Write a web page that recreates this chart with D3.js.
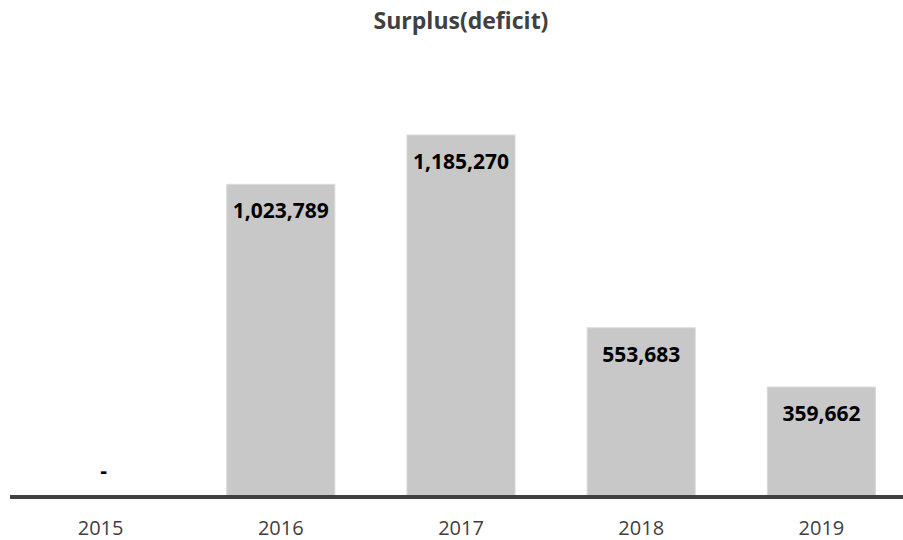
<!DOCTYPE html>
<html>
<head>
<meta charset="utf-8">
<script src="https://cdn.jsdelivr.net/npm/d3@7/dist/d3.min.js"></script>
<style>
  html, body { margin: 0; padding: 0; background: #fff; }
  svg { display: block; font-family: "Open Sans", sans-serif; }
</style>
</head>
<body>
<svg id="chart" width="903" height="540"></svg>
<script>
const categories = ["2015", "2016", "2017", "2018", "2019"];
const values = [0, 1023789, 1185270, 553683, 359662];
const labels = ["-", "1,023,789", "1,185,270", "553,683", "359,662"];
const title = "Surplus(deficit)";

const data = categories.map((c, i) => ({ cat: c, value: values[i], label: labels[i] }));

const svg = d3.select("#chart");
const W = 903, H = 540;

const x = d3.scaleBand()
  .domain(categories)
  .range([10.5, 911.5])
  .paddingInner(0.4)
  .paddingOuter(0.2);

const y = d3.scaleLinear()
  .domain([0, 1400000])
  .range([496.8, 496.8 - 1400000 * 3.052e-4]);

svg.append("text")
  .attr("x", 461)
  .attr("y", 29)
  .attr("text-anchor", "middle")
  .attr("font-size", 23)
  .attr("font-weight", "bold")
  .attr("fill", "#404040")
  .text(title);

svg.append("g")
  .selectAll("rect")
  .data(data)
  .join("rect")
  .attr("x", d => x(d.cat))
  .attr("y", d => y(d.value))
  .attr("width", x.bandwidth())
  .attr("height", d => y(0) - y(d.value))
  .attr("fill", "#c8c8c8")
  .attr("stroke", "#dadada")
  .attr("stroke-width", 1);

svg.append("line")
  .attr("x1", 10).attr("x2", W)
  .attr("y1", 497).attr("y2", 497)
  .attr("stroke", "#404040")
  .attr("stroke-width", 4);

svg.append("g")
  .selectAll("text")
  .data(data)
  .join("text")
  .attr("x", d => x(d.cat) + x.bandwidth() / 2 + (d.value === 0 ? 3 : 0))
  .attr("y", d => d.value === 0 ? y(0) - 19 : y(d.value) + 34)
  .attr("text-anchor", "middle")
  .attr("font-size", 21)
  .attr("font-weight", "bold")
  .attr("fill", "#000")
  .text(d => d.label);

const xAxis = svg.append("g")
  .attr("transform", `translate(0,${y(0)})`)
  .call(d3.axisBottom(x).tickSize(0).tickPadding(0));
xAxis.select(".domain").remove();
xAxis.selectAll("text")
  .attr("y", 38)
  .attr("dy", 0)
  .attr("font-size", 20)
  .attr("font-family", "Open Sans, sans-serif")
  .attr("fill", "#404040");
</script>
</body>
</html>
